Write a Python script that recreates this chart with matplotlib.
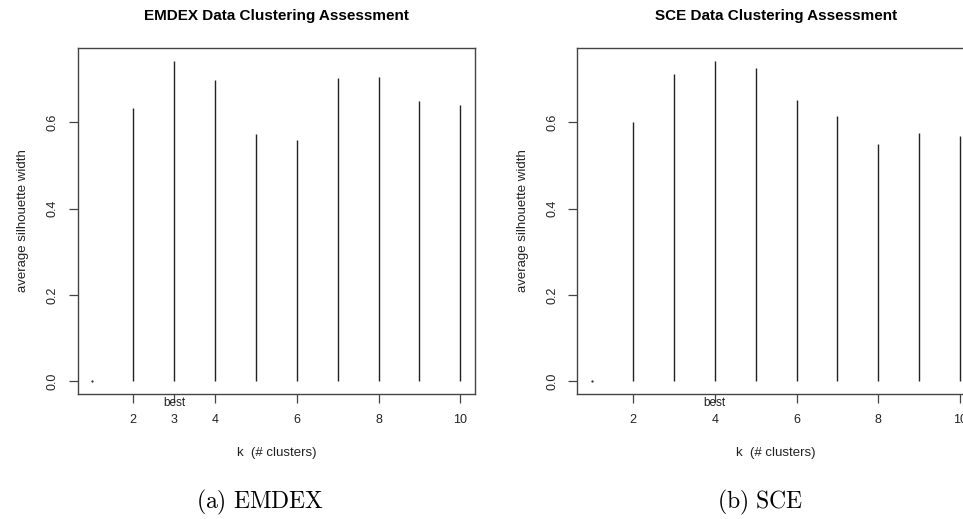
import matplotlib.pyplot as plt
import numpy as np

plt.rcParams['font.family'] = ['Liberation Sans', 'DejaVu Sans']
plt.rcParams['mathtext.fontset'] = 'cm'

# average silhouette width for k = 1..10 clusters
k = np.arange(1, 11)
emdex_asw = [0.0, 0.632, 0.743, 0.699, 0.574, 0.560, 0.702, 0.704, 0.649, 0.639]
sce_asw = [0.0, 0.600, 0.712, 0.743, 0.726, 0.651, 0.615, 0.549, 0.576, 0.569]
emdex_ticks = [2, 3, 4, 6, 8, 10]
sce_ticks = [2, 4, 6, 8, 10]

titles = ['EMDEX Data Clustering Assessment', 'SCE Data Clustering Assessment']
captions = [r'$\mathrm{(a)\ EMDEX}$', r'$\mathrm{(b)\ SCE}$']

fig = plt.figure(figsize=(9.63, 5.19), dpi=100)
ax1 = fig.add_axes([0.0807, 0.2403, 0.4126, 0.6678])
ax2 = fig.add_axes([0.5995, 0.2403, 0.4128, 0.6678])

frame_col = '#444444'
ink = '#222222'

for ax, asw, ticks, title in zip([ax1, ax2], [emdex_asw, sce_asw],
                                 [emdex_ticks, sce_ticks], titles):
    asw = np.array(asw)
    # type="h" style lines, with the k=1 value drawn as a dot
    ax.vlines(k[1:], 0, asw[1:], color=ink, lw=1.0)
    ax.plot(k[:1], asw[:1], marker='.', ms=1.2, color=ink)

    # R style 4% axis extension
    xr = k.max() - k.min()
    yr = asw.max() - 0
    ax.set_xlim(k.min() - 0.04 * xr, k.max() + 0.04 * xr)
    ax.set_ylim(0 - 0.04 * yr, asw.max() + 0.04 * yr)

    best = k[np.argmax(asw)]
    ax.set_xticks(ticks)
    ax.set_xticklabels([str(t) for t in ticks], fontsize=9, color=ink)
    ax.set_yticks([0.0, 0.2, 0.4, 0.6])
    ax.set_yticklabels(['0.0', '0.2', '0.4', '0.6'], rotation=90, va='center',
                       fontsize=9, color=ink)
    ax.tick_params(direction='out', length=6.5, width=0.9, color=frame_col)
    ax.tick_params(axis='x', pad=7.5)
    ax.tick_params(axis='y', pad=7)
    for s in ax.spines.values():
        s.set_color(frame_col)
        s.set_linewidth(1.0)

    ax.text(best, -0.025, 'best', transform=ax.get_xaxis_transform(),
            ha='center', va='center', fontsize=8.5, color=ink)
    ax.set_xlabel('k  (# clusters)', fontsize=9.5, color=ink, va='center')
    ax.xaxis.set_label_coords(0.5, -0.1685)
    ax.set_ylabel('average silhouette width', fontsize=9.5, color=ink,
                  va='center')
    ax.yaxis.set_label_coords(-0.137, 0.5)
    ax.set_title(title, fontsize=11, fontweight='bold', pad=20)

fig.text(260 / 963, 1 - 502 / 519, captions[0], ha='center', va='center',
         fontsize=17)
fig.text(760 / 963, 1 - 502 / 519, captions[1], ha='center', va='center',
         fontsize=17)

fig.savefig('out.png', dpi=100)
